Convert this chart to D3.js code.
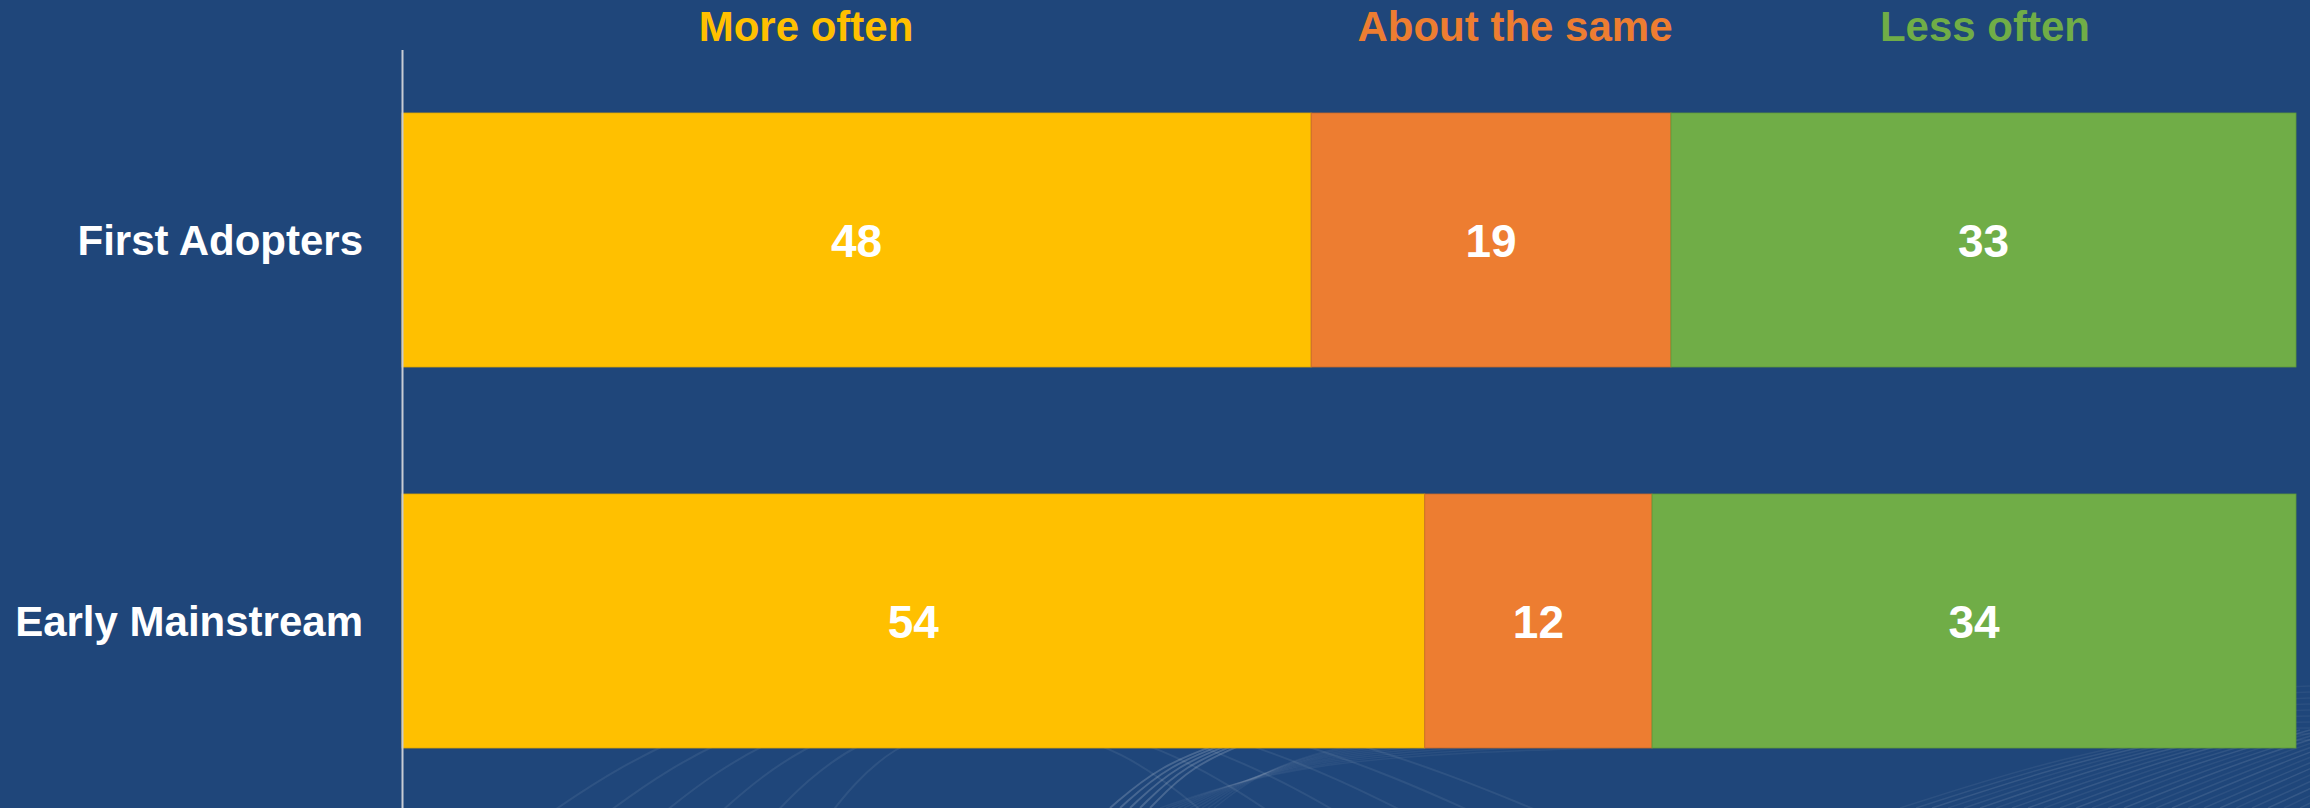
<!DOCTYPE html>
<html>
<head>
<meta charset="utf-8">
<script src="https://cdn.jsdelivr.net/npm/d3@7"></script>
<style>
  html, body { margin: 0; padding: 0; background: #1f467a; overflow: hidden; }
  svg { display: block; }
  text { font-family: "Liberation Sans", Arial, sans-serif; font-weight: bold; }
</style>
</head>
<body>
<div class="chart"></div>
<script>
// data
var groups = ["First Adopters", "Early Mainstream"];
var seriesNames = ["More often", "About the same", "Less often"];
var moreOften = [48, 54];
var aboutSame = [19, 12];
var lessOften = [33, 34];
var colors = ["#ffc000", "#ed7d31", "#70ad47"];
var edgeColors = ["#e0a800", "#c8692a", "#5f9a3a"];

var width = 2310,
  height = 808;
var margin = { top: 49.5, right: 14, bottom: -3.5, left: 402 };
var legendX = [806, 1515, 1985];

var rows = groups.map(function (g, i) {
  return { group: g, "More often": moreOften[i], "About the same": aboutSame[i], "Less often": lessOften[i] };
});

var svg = d3
  .select(".chart")
  .append("svg")
  .attr("width", width)
  .attr("height", height);

svg.append("rect").attr("width", width).attr("height", height).attr("fill", "#1f467a");

// faint background swirl decoration
var deco = svg.append("g").attr("fill", "none").attr("stroke", "#ffffff");
var arcLine = d3.line().curve(d3.curveBasis);
d3.range(6).forEach(function (k) {
  var r = 140 + k * 45;
  deco
    .append("path")
    .attr("d", arcLine([[1000 - r * 1.3, 830], [1000 - r * 0.8, 760 - r * 0.15], [1000, 745 - r * 0.2], [1000 + r * 0.9, 760 - r * 0.1], [1000 + r * 1.6, 830]]))
    .attr("stroke-opacity", 0.07)
    .attr("stroke-width", 2);
});
d3.range(28).forEach(function (k) {
  deco
    .append("path")
    .attr("d", arcLine([[1900 + k * 16, 808], [2050 + k * 14, 760], [2200 + k * 10, 730]]))
    .attr("stroke-opacity", 0.06 + (k % 3) * 0.02)
    .attr("stroke-width", 1.5);
});
d3.range(10).forEach(function (k) {
  deco
    .append("path")
    .attr("d", arcLine([[1160 + k * 6, 808], [1300, 760 - k * 2], [1600, 745 - k * 3], [2310, 740 - k * 6]]))
    .attr("stroke-opacity", 0.05)
    .attr("stroke-width", 1.5);
});
d3.range(5).forEach(function (k) {
  deco
    .append("path")
    .attr("d", arcLine([[1110 + k * 10, 808], [1160 + k * 8, 765], [1230 + k * 6, 740]]))
    .attr("stroke-opacity", 0.18)
    .attr("stroke-width", 2);
});

var g = svg.append("g").attr("transform", "translate(" + margin.left + "," + margin.top + ")");
var innerW = width - margin.left - margin.right;
var innerH = height - margin.top - margin.bottom;

var x = d3.scaleLinear().domain([0, 100]).range([0, innerW]);
var y = d3.scaleBand().domain(groups).range([0, innerH]).paddingInner(1 / 3).paddingOuter(1 / 6);
var color = d3.scaleOrdinal().domain(seriesNames).range(colors);
var edge = d3.scaleOrdinal().domain(seriesNames).range(edgeColors);

var stack = d3.stack().keys(seriesNames)(rows);

var layers = g
  .selectAll(".layer")
  .data(stack)
  .enter()
  .append("g")
  .attr("class", "layer");

layers
  .selectAll("rect")
  .data(function (d) {
    return d.map(function (v) {
      return { key: d.key, v0: v[0], v1: v[1], group: v.data.group };
    });
  })
  .enter()
  .append("rect")
  .attr("x", function (d) { return x(d.v0); })
  .attr("y", function (d) { return y(d.group); })
  .attr("width", function (d) { return x(d.v1) - x(d.v0); })
  .attr("height", y.bandwidth())
  .attr("fill", function (d) { return color(d.key); })
  .attr("stroke", function (d) { return edge(d.key); })
  .attr("stroke-width", 0.8);

layers
  .selectAll("text")
  .data(function (d) {
    return d.map(function (v) {
      return { key: d.key, v0: v[0], v1: v[1], group: v.data.group };
    });
  })
  .enter()
  .append("text")
  .attr("x", function (d) { return x((d.v0 + d.v1) / 2); })
  .attr("y", function (d) { return y(d.group) + y.bandwidth() / 2; })
  .attr("dy", "0.36em")
  .attr("text-anchor", "middle")
  .attr("fill", "#ffffff")
  .style("font-size", "46px")
  .text(function (d) { return d.v1 - d.v0; });

// category axis
var yAxis = g.append("g").attr("class", "axis").call(d3.axisLeft(y).tickSize(0).tickPadding(39));
yAxis.select(".domain").attr("stroke", "#c8ccd4").attr("stroke-width", 2);
yAxis
  .selectAll("text")
  .attr("fill", "#ffffff")
  .attr("dy", "0.36em")
  .style("font-size", "42px")
  .style("font-family", "'Liberation Sans', Arial, sans-serif")
  .style("font-weight", "bold");

// legend across the top
svg
  .selectAll(".legend")
  .data(seriesNames)
  .enter()
  .append("text")
  .attr("class", "legend")
  .attr("x", function (d, i) { return legendX[i]; })
  .attr("y", 41)
  .attr("text-anchor", "middle")
  .attr("fill", function (d) { return color(d); })
  .style("font-size", "42px")
  .text(function (d) { return d; });
</script>
</body>
</html>
